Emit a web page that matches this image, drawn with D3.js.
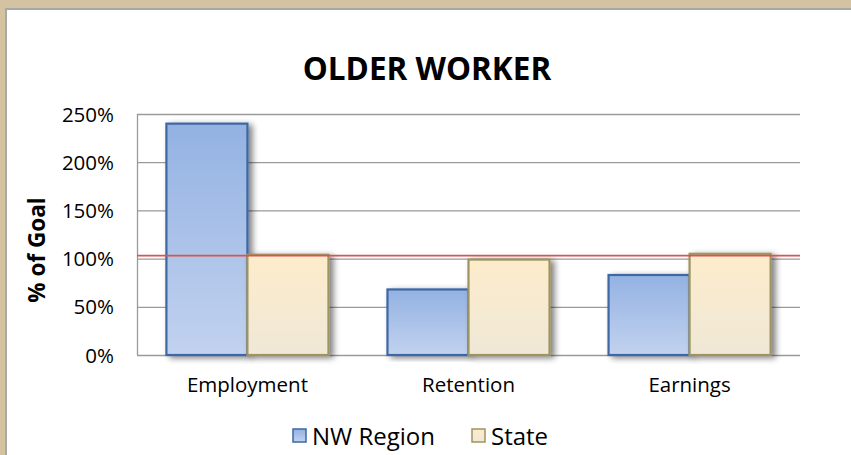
<!DOCTYPE html>
<html><head><meta charset="utf-8">
<script src="https://cdn.jsdelivr.net/npm/d3@7"></script>
<style>body{margin:0;background:#fff;} svg{display:block;}</style>
</head><body>
<svg id="c" width="851" height="455"></svg>
<script>
const categories = ["Employment", "Retention", "Earnings"];
const seriesNames = ["NW Region", "State"];
const nwRegion = [2.40, 0.68, 0.83];
const state = [1.04, 0.99, 1.05];
const goalLine = 1.03;
const yTicks = [0, 0.5, 1.0, 1.5, 2.0, 2.5];
const title = "OLDER WORKER";
const yLabel = "% of Goal";

(function(){
const svg = d3.select("#c");
const font = "'Open Sans', 'Liberation Sans', sans-serif";

// frame
svg.append("rect").attr("x",0).attr("y",0).attr("width",851).attr("height",455).attr("fill","#d3c3a0");
svg.append("rect").attr("x",5).attr("y",8).attr("width",846).attr("height",447).attr("fill","#a8a8a8");
svg.append("rect").attr("x",7).attr("y",10).attr("width",844).attr("height",445).attr("fill","#fff");

const defs = svg.append("defs");
const g1 = defs.append("linearGradient").attr("id","gNW").attr("x1",0).attr("y1",0).attr("x2",0).attr("y2",1);
g1.append("stop").attr("offset","0%").attr("stop-color","#93b2e2");
g1.append("stop").attr("offset","100%").attr("stop-color","#c2d2ef");
const g2 = defs.append("linearGradient").attr("id","gST").attr("x1",0).attr("y1",0).attr("x2",0).attr("y2",1);
g2.append("stop").attr("offset","0%").attr("stop-color","#fdeccb");
g2.append("stop").attr("offset","100%").attr("stop-color","#efe8d7");
const sh = defs.append("filter").attr("id","sh").attr("x","-20%").attr("y","-10%").attr("width","150%").attr("height","120%");
sh.append("feGaussianBlur").attr("in","SourceAlpha").attr("stdDeviation",3);
sh.append("feOffset").attr("dx",4).attr("dy",2).attr("result","b");
sh.append("feComponentTransfer").append("feFuncA").attr("type","linear").attr("slope",0.5);
const m = sh.append("feMerge"); m.append("feMergeNode"); m.append("feMergeNode").attr("in","SourceGraphic");

const pl = 137, pr = 800, pt = 114, pb = 355;
const y = d3.scaleLinear().domain([0, 2.5]).range([pb, pt]);
const x0 = d3.scaleBand().domain(categories).range([pl, pr]).paddingInner(0.267).paddingOuter(0.133);
const x1 = d3.scaleBand().domain(seriesNames).range([0, x0.bandwidth()]);

// gridlines
svg.append("g").selectAll("line").data(yTicks).join("line")
  .attr("x1", pl).attr("x2", pr).attr("y1", d=>y(d)+0.5).attr("y2", d=>y(d)+0.5)
  .attr("stroke","#9a9a9a").attr("stroke-width",1.3);
svg.append("line").attr("x1",pl+0.5).attr("x2",pl+0.5).attr("y1",pt).attr("y2",pb)
  .attr("stroke","#9a9a9a").attr("stroke-width",1.3);

// y tick labels
const yAxis = d3.axisLeft(y).tickValues(yTicks).tickFormat(d3.format(".0%")).tickSize(0).tickPadding(23);
const ya = svg.append("g").attr("transform",`translate(${pl},0)`).call(yAxis);
ya.select(".domain").remove();
ya.selectAll("text").attr("font-family",font).attr("font-size",20.5).attr("fill","#000").attr("dy","0.35em");

// bars
const data = categories.map((c,i)=>({c, vals:[{s:"NW Region", v:nwRegion[i]},{s:"State", v:state[i]}]}));
const grp = svg.append("g").selectAll("g").data(data).join("g").attr("transform", d=>`translate(${x0(d.c)},0)`);
grp.selectAll("rect").data(d=>d.vals).join("rect")
  .attr("x", d=>x1(d.s)).attr("width", x1.bandwidth())
  .attr("y", d=>y(d.v)).attr("height", d=>pb - y(d.v))
  .attr("fill", d=>d.s==="NW Region" ? "url(#gNW)" : "url(#gST)")
  .attr("stroke", d=>d.s==="NW Region" ? "#3d67a3" : "#9e9462")
  .attr("stroke-width", 2.2)
  .attr("filter","url(#sh)");

// goal line
svg.append("line").attr("x1",pl).attr("x2",pr).attr("y1",y(goalLine)).attr("y2",y(goalLine))
  .attr("stroke","#d9534f").attr("stroke-width",1.8);

// x labels
const xAxis = d3.axisBottom(x0).tickSize(0).tickPadding(22);
const xa = svg.append("g").attr("transform",`translate(0,${pb})`).call(xAxis);
xa.select(".domain").remove();
xa.selectAll("text").attr("font-family",font).attr("font-size",20.5).attr("fill","#000");

// title
svg.append("text").attr("x",427).attr("y",80).attr("text-anchor","middle")
  .attr("font-family",font).attr("font-weight","bold").attr("font-size",31.5).attr("fill","#000").text(title);

// y label
svg.append("text").attr("transform","translate(45,250) rotate(-90)").attr("text-anchor","middle")
  .attr("font-family",font).attr("font-weight","bold").attr("font-size",22.5).attr("fill","#000").text(yLabel);

// legend
const legX = [293, 472];
const leg = svg.append("g").selectAll("g").data(seriesNames).join("g").attr("transform",(d,i)=>`translate(${legX[i]},429)`);
leg.append("rect").attr("width",13).attr("height",13)
  .attr("fill",(d,i)=>i===0?"url(#gNW)":"url(#gST)")
  .attr("stroke",(d,i)=>i===0?"#3d67a3":"#9e9462").attr("stroke-width",1.5);
leg.append("text").attr("x",19).attr("y",16).attr("font-family",font).attr("font-size",24).attr("fill","#000").text(d=>d);
})();
</script>
</body></html>
